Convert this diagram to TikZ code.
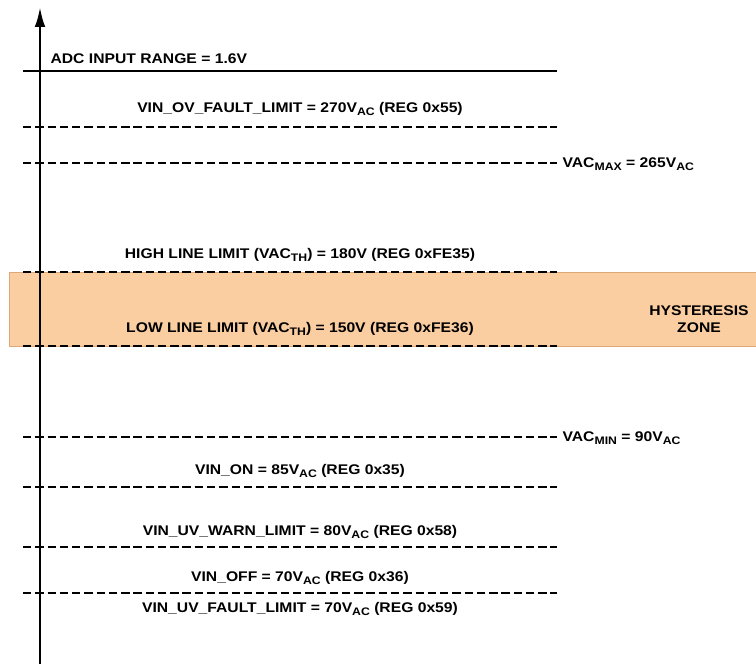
\documentclass[tikz,border=0pt]{standalone}
\usepackage{fontspec}
\setmainfont[FakeStretch=1.12]{Liberation Sans}
\usetikzlibrary{arrows.meta, positioning}
\definecolor{hystfill}{RGB}{251,206,162}
\definecolor{hystedge}{RGB}{222,168,118}
\newcommand{\subtxt}[1]{\raisebox{-0.45ex}{\fontsize{8.2}{9}\selectfont #1}}

\begin{document}
\begin{tikzpicture}[x=0.75pt, y=-0.75pt,
  limitline/.style={line width=1.4pt, dash pattern=on 6.3pt off 2.9pt},
  limitlabel/.style={font=\fontsize{10.5}{12.5}\selectfont\bfseries, inner sep=1pt},
  axisline/.style={line width=2pt, -{Latex[length=15pt, width=8pt]}}]
  \useasboundingbox (0,0) rectangle (756,667);

  % hysteresis band
  \draw[hystedge, fill=hystfill, line width=0.6pt] (9,272) rectangle (757,346);
  \node[limitlabel, align=center] (hyst) at (699,319) {HYSTERESIS\\ZONE};

  % ADC full scale
  \coordinate (adcL) at (23,71);
  \coordinate (adcR) at (557,71);
  \draw[line width=1.4pt] (adcL) -- (adcR);
  \node[limitlabel, anchor=south west] (adc) at (49,65) {ADC INPUT RANGE = 1.6V};

  % dashed limit lines
  \foreach \ly/\lname in {127/ov, 163/vmax, 272/high, 346/low, 437/vmin, 487/von, 547/warn, 593/voff} {
    \coordinate (\lname L) at (23,\ly);
    \coordinate (\lname R) at (557,\ly);
    \draw[limitline] (\lname L) -- (\lname R);
  }

  % labels above the lines
  \node[limitlabel] (ovtxt) at (300,109) {VIN\_OV\_FAULT\_LIMIT = 270V\subtxt{AC} (REG 0x55)};
  \node[limitlabel] (hightxt) at (300,255) {HIGH LINE LIMIT (VAC\subtxt{TH}) = 180V (REG 0xFE35)};
  \node[limitlabel] (lowtxt) at (300,329) {LOW LINE LIMIT (VAC\subtxt{TH}) = 150V (REG 0xFE36)};
  \node[limitlabel] (ontxt) at (300,471) {VIN\_ON = 85V\subtxt{AC} (REG 0x35)};
  \node[limitlabel] (warntxt) at (300,532) {VIN\_UV\_WARN\_LIMIT = 80V\subtxt{AC} (REG 0x58)};
  \node[limitlabel] (offtxt) at (300,578) {VIN\_OFF = 70V\subtxt{AC} (REG 0x36)};
  \node[limitlabel] (uvtxt) at (300,609) {VIN\_UV\_FAULT\_LIMIT = 70V\subtxt{AC} (REG 0x59)};

  % labels at the right end
  \node[limitlabel, anchor=west, xshift=3pt, yshift=-1pt] (vmaxtxt) at (vmaxR) {VAC\subtxt{MAX} = 265V\subtxt{AC}};
  \node[limitlabel, anchor=west, xshift=3pt, yshift=-1pt] (vmintxt) at (vminR) {VAC\subtxt{MIN} = 90V\subtxt{AC}};

  % vertical axis
  \coordinate (axbot) at (40,664);
  \coordinate (axtop) at (40,7);
  \draw[axisline] (axbot) -- (axtop);
\end{tikzpicture}
\end{document}
